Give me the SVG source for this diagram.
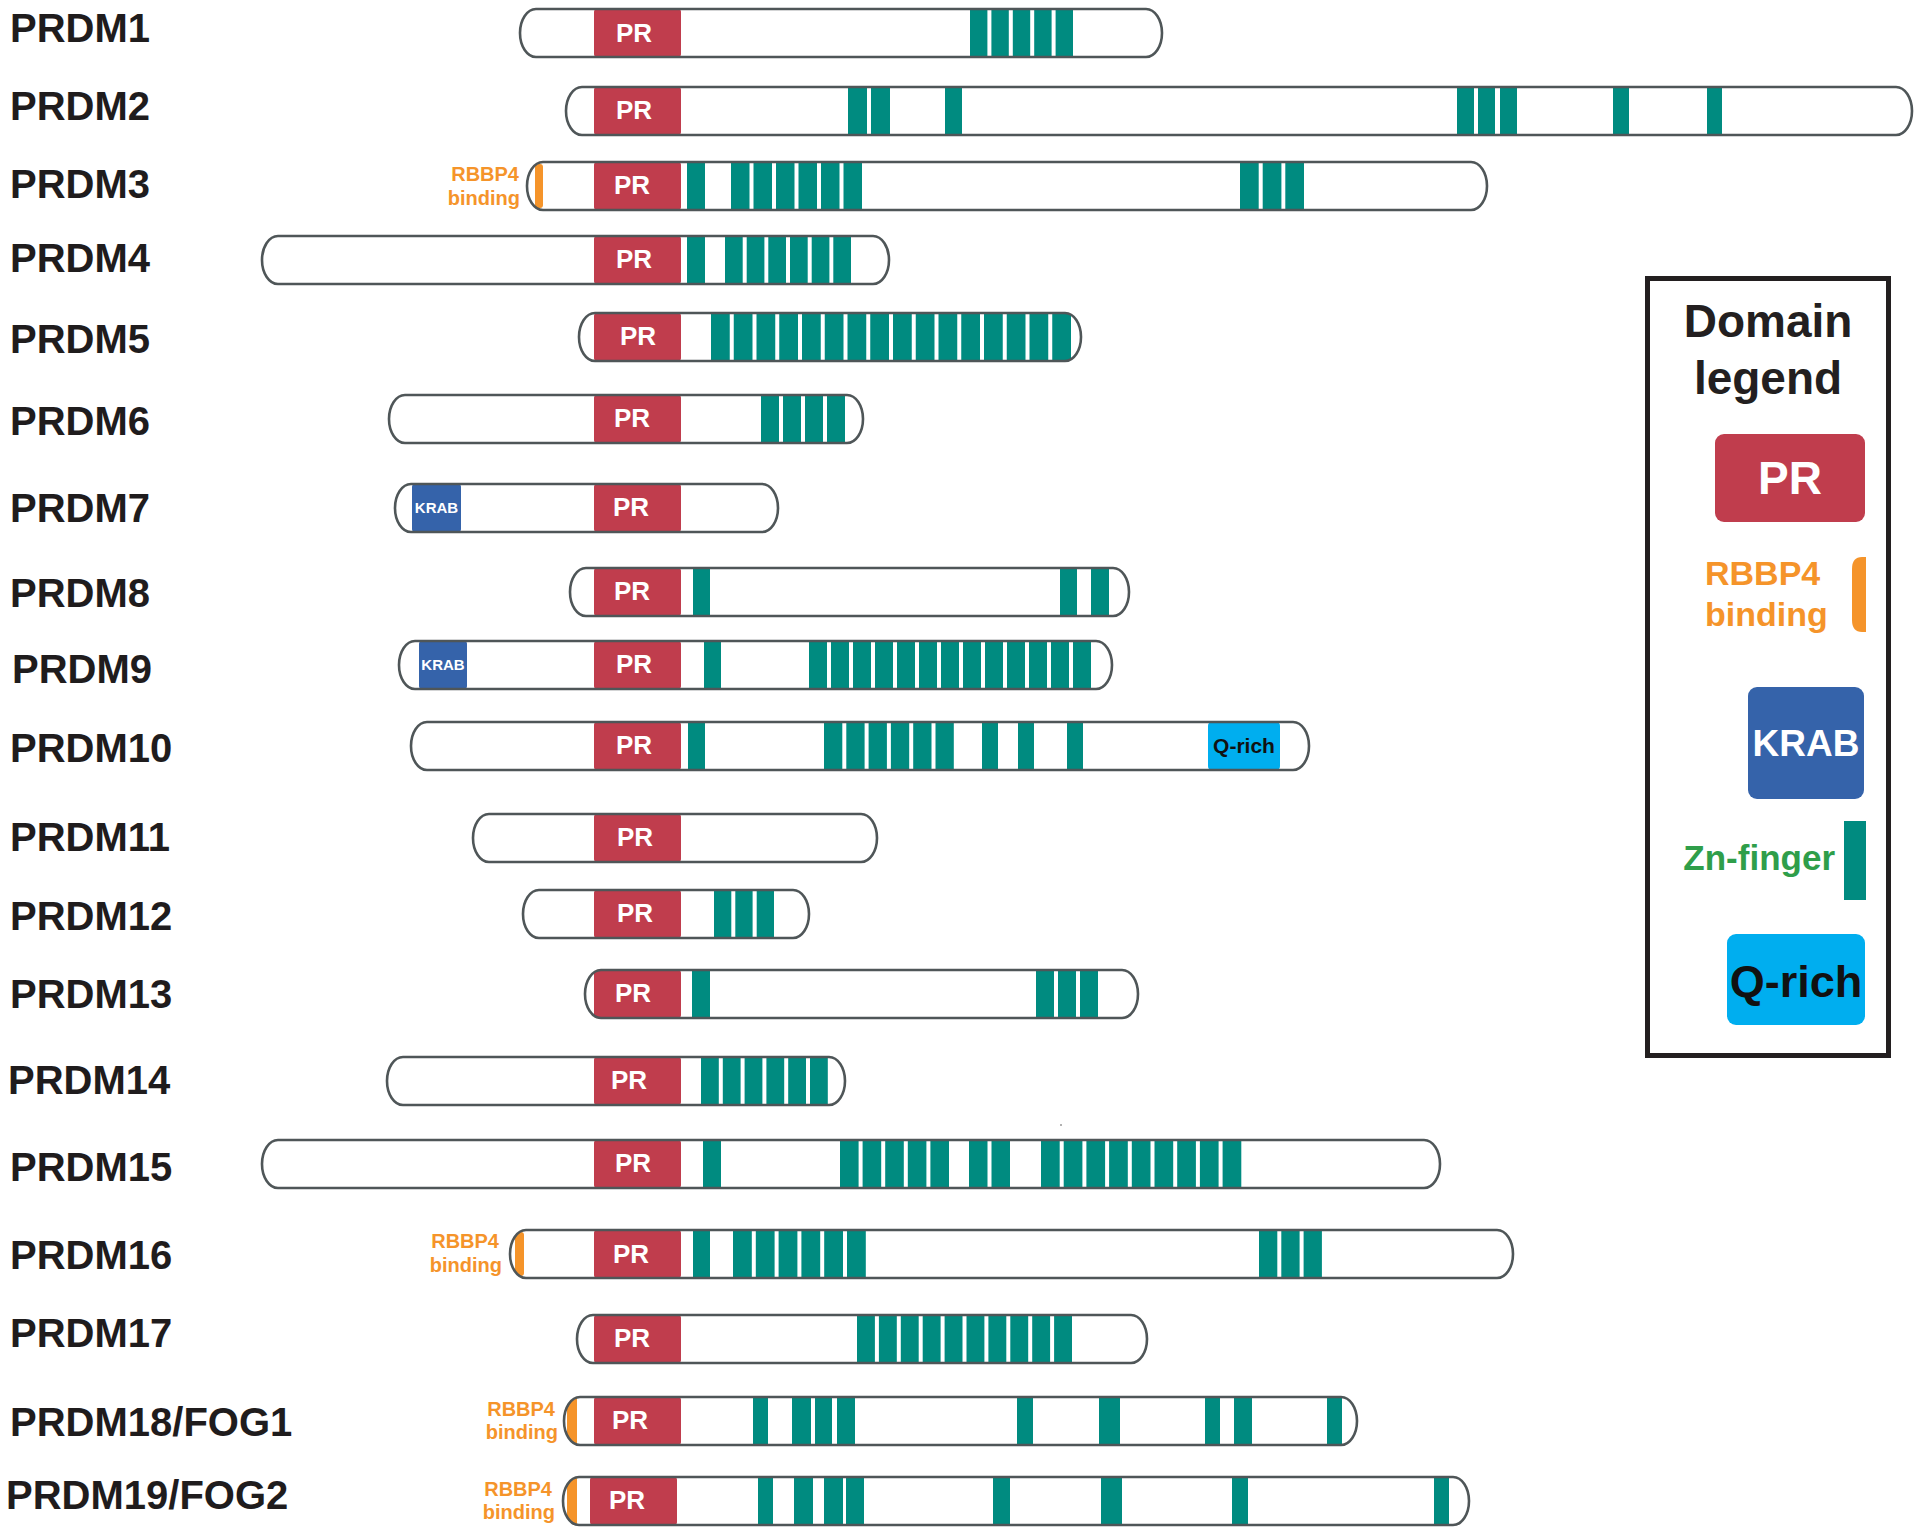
<svg xmlns="http://www.w3.org/2000/svg" width="1920" height="1535" viewBox="0 0 1920 1535">
<style>
.bg{fill:#fff}
.bar{fill:#fff}
.ol{fill:none;stroke:#4f5658;stroke-width:2.6}
.pr{fill:#c03d4d}
.zn{fill:#008b80}
.kr{fill:#3563aa}
.q{fill:#00aeef}
.rb{fill:#f5942a}
.lbl{font-family:"Liberation Sans",Arial,sans-serif;font-weight:bold;font-size:40px;fill:#1f1c1d}
.prt{font-family:"Liberation Sans",Arial,sans-serif;font-weight:bold;font-size:26px;fill:#fff;text-anchor:middle}
.krt{font-family:"Liberation Sans",Arial,sans-serif;font-weight:bold;font-size:15px;fill:#fff;text-anchor:middle}
.qt{font-family:"Liberation Sans",Arial,sans-serif;font-weight:bold;font-size:21px;fill:#111;text-anchor:middle}
.rbt{font-family:"Liberation Sans",Arial,sans-serif;font-weight:bold;font-size:20px;fill:#f5942a;text-anchor:end}
.lg{font-family:"Liberation Sans",Arial,sans-serif;font-weight:bold}
</style>
<defs>
<clipPath id="c1"><rect x="520" y="-24" width="642" height="48" rx="16" ry="24"/></clipPath>
<clipPath id="c2"><rect x="566" y="-24" width="1346" height="48" rx="16" ry="24"/></clipPath>
<clipPath id="c3"><rect x="527" y="-24" width="960" height="48" rx="16" ry="24"/></clipPath>
<clipPath id="c4"><rect x="262" y="-24" width="627" height="48" rx="16" ry="24"/></clipPath>
<clipPath id="c5"><rect x="579" y="-24" width="502" height="48" rx="16" ry="24"/></clipPath>
<clipPath id="c6"><rect x="389" y="-24" width="474" height="48" rx="16" ry="24"/></clipPath>
<clipPath id="c7"><rect x="395" y="-24" width="383" height="48" rx="16" ry="24"/></clipPath>
<clipPath id="c8"><rect x="570" y="-24" width="559" height="48" rx="16" ry="24"/></clipPath>
<clipPath id="c9"><rect x="399" y="-24" width="713" height="48" rx="16" ry="24"/></clipPath>
<clipPath id="c10"><rect x="411" y="-24" width="898" height="48" rx="16" ry="24"/></clipPath>
<clipPath id="c11"><rect x="473" y="-24" width="404" height="48" rx="16" ry="24"/></clipPath>
<clipPath id="c12"><rect x="523" y="-24" width="286" height="48" rx="16" ry="24"/></clipPath>
<clipPath id="c13"><rect x="585" y="-24" width="553" height="48" rx="16" ry="24"/></clipPath>
<clipPath id="c14"><rect x="387" y="-24" width="458" height="48" rx="16" ry="24"/></clipPath>
<clipPath id="c15"><rect x="262" y="-24" width="1178" height="48" rx="16" ry="24"/></clipPath>
<clipPath id="c16"><rect x="510" y="-24" width="1003" height="48" rx="16" ry="24"/></clipPath>
<clipPath id="c17"><rect x="577" y="-24" width="570" height="48" rx="16" ry="24"/></clipPath>
<clipPath id="c18"><rect x="564" y="-24" width="793" height="48" rx="16" ry="24"/></clipPath>
<clipPath id="c19"><rect x="563" y="-24" width="906" height="48" rx="16" ry="24"/></clipPath>
</defs>
<rect class="bg" x="0" y="0" width="1920" height="1535"/>

<g id="prdm1" transform="translate(0,33)">
<text class="lbl" x="10" y="9">PRDM1</text>
<rect class="bar" x="520" y="-24" width="642" height="48" rx="16" ry="24"/>
<g clip-path="url(#c1)">
<rect class="pr" x="594" y="-24" width="87" height="48" rx="3"/>
<rect class="zn" x="970" y="-24" width="17.4" height="48"/><rect class="zn" x="991.4" y="-24" width="17.4" height="48"/><rect class="zn" x="1012.8" y="-24" width="17.4" height="48"/><rect class="zn" x="1034.2" y="-24" width="17.4" height="48"/><rect class="zn" x="1055.6" y="-24" width="17.4" height="48"/>
</g>
<rect class="ol" x="520" y="-24" width="642" height="48" rx="16" ry="24"/>
<text class="prt" x="634" y="9">PR</text>
</g>

<g id="prdm2" transform="translate(0,111)">
<text class="lbl" x="10" y="9">PRDM2</text>
<rect class="bar" x="566" y="-24" width="1346" height="48" rx="16" ry="24"/>
<g clip-path="url(#c2)">
<rect class="pr" x="594" y="-24" width="87" height="48" rx="3"/>
<rect class="zn" x="848" y="-24" width="19" height="48"/><rect class="zn" x="871" y="-24" width="19" height="48"/><rect class="zn" x="945" y="-24" width="17" height="48"/>
<rect class="zn" x="1457" y="-24" width="17" height="48"/><rect class="zn" x="1478" y="-24" width="17" height="48"/><rect class="zn" x="1500" y="-24" width="17" height="48"/>
<rect class="zn" x="1613" y="-24" width="16" height="48"/><rect class="zn" x="1707" y="-24" width="15" height="48"/>
</g>
<rect class="ol" x="566" y="-24" width="1346" height="48" rx="16" ry="24"/>
<text class="prt" x="634" y="8">PR</text>
</g>

<g id="prdm3" transform="translate(0,186)">
<text class="lbl" x="10" y="12">PRDM3</text>
<text class="rbt" x="519" y="-5">RBBP4</text>
<text class="rbt" x="520" y="19">binding</text>
<rect class="bar" x="527" y="-24" width="960" height="48" rx="16" ry="24"/>
<g clip-path="url(#c3)">
<rect class="rb" x="535" y="-22" width="8" height="44" rx="3"/>
<rect class="pr" x="594" y="-24" width="87" height="48" rx="3"/>
<rect class="zn" x="687" y="-24" width="18" height="48"/>
<rect class="zn" x="731" y="-24" width="18.5" height="48"/><rect class="zn" x="753.5" y="-24" width="18.5" height="48"/><rect class="zn" x="776" y="-24" width="18.5" height="48"/><rect class="zn" x="798.5" y="-24" width="18.5" height="48"/><rect class="zn" x="821" y="-24" width="18.5" height="48"/><rect class="zn" x="843.5" y="-24" width="18.5" height="48"/>
<rect class="zn" x="1240" y="-24" width="18.7" height="48"/><rect class="zn" x="1262.7" y="-24" width="18.7" height="48"/><rect class="zn" x="1285.3" y="-24" width="18.7" height="48"/>
</g>
<rect class="ol" x="527" y="-24" width="960" height="48" rx="16" ry="24"/>
<text class="prt" x="632" y="8">PR</text>
</g>

<g id="prdm4" transform="translate(0,260)">
<text class="lbl" x="10" y="12">PRDM4</text>
<rect class="bar" x="262" y="-24" width="627" height="48" rx="16" ry="24"/>
<g clip-path="url(#c4)">
<rect class="pr" x="594" y="-24" width="87" height="48" rx="3"/>
<rect class="zn" x="687" y="-24" width="18" height="48"/>
<rect class="zn" x="725" y="-24" width="17.7" height="48"/><rect class="zn" x="746.7" y="-24" width="17.7" height="48"/><rect class="zn" x="768.3" y="-24" width="17.7" height="48"/><rect class="zn" x="790" y="-24" width="17.7" height="48"/><rect class="zn" x="811.7" y="-24" width="17.7" height="48"/><rect class="zn" x="833.3" y="-24" width="17.7" height="48"/>
</g>
<rect class="ol" x="262" y="-24" width="627" height="48" rx="16" ry="24"/>
<text class="prt" x="634" y="8">PR</text>
</g>

<g id="prdm5" transform="translate(0,337)">
<text class="lbl" x="10" y="16">PRDM5</text>
<rect class="bar" x="579" y="-24" width="502" height="48" rx="16" ry="24"/>
<g clip-path="url(#c5)">
<rect class="pr" x="594" y="-24" width="87" height="48" rx="3"/>
<rect class="zn" x="711" y="-24" width="18.75" height="48"/><rect class="zn" x="733.75" y="-24" width="18.75" height="48"/><rect class="zn" x="756.5" y="-24" width="18.75" height="48"/><rect class="zn" x="779.25" y="-24" width="18.75" height="48"/>
<rect class="zn" x="802" y="-24" width="18.75" height="48"/><rect class="zn" x="824.75" y="-24" width="18.75" height="48"/><rect class="zn" x="847.5" y="-24" width="18.75" height="48"/><rect class="zn" x="870.25" y="-24" width="18.75" height="48"/>
<rect class="zn" x="893" y="-24" width="18.75" height="48"/><rect class="zn" x="915.75" y="-24" width="18.75" height="48"/><rect class="zn" x="938.5" y="-24" width="18.75" height="48"/><rect class="zn" x="961.25" y="-24" width="18.75" height="48"/>
<rect class="zn" x="984" y="-24" width="18.75" height="48"/><rect class="zn" x="1006.75" y="-24" width="18.75" height="48"/><rect class="zn" x="1029.5" y="-24" width="18.75" height="48"/><rect class="zn" x="1052.25" y="-24" width="18.75" height="48"/>
</g>
<rect class="ol" x="579" y="-24" width="502" height="48" rx="16" ry="24"/>
<text class="prt" x="638" y="8">PR</text>
</g>

<g id="prdm6" transform="translate(0,419)">
<text class="lbl" x="10" y="16">PRDM6</text>
<rect class="bar" x="389" y="-24" width="474" height="48" rx="16" ry="24"/>
<g clip-path="url(#c6)">
<rect class="pr" x="594" y="-24" width="87" height="48" rx="3"/>
<rect class="zn" x="761" y="-24" width="18" height="48"/><rect class="zn" x="783" y="-24" width="18" height="48"/><rect class="zn" x="805" y="-24" width="18" height="48"/><rect class="zn" x="827" y="-24" width="18" height="48"/>
</g>
<rect class="ol" x="389" y="-24" width="474" height="48" rx="16" ry="24"/>
<text class="prt" x="632" y="8">PR</text>
</g>

<g id="prdm7" transform="translate(0,508)">
<text class="lbl" x="10" y="14">PRDM7</text>
<rect class="bar" x="395" y="-24" width="383" height="48" rx="16" ry="24"/>
<g clip-path="url(#c7)">
<rect class="kr" x="412" y="-24" width="49" height="48" rx="3"/>
<rect class="pr" x="594" y="-24" width="87" height="48" rx="3"/>
</g>
<rect class="ol" x="395" y="-24" width="383" height="48" rx="16" ry="24"/>
<text class="krt" x="436.5" y="5">KRAB</text>
<text class="prt" x="631" y="8">PR</text>
</g>

<g id="prdm8" transform="translate(0,592)">
<text class="lbl" x="10" y="15">PRDM8</text>
<rect class="bar" x="570" y="-24" width="559" height="48" rx="16" ry="24"/>
<g clip-path="url(#c8)">
<rect class="pr" x="594" y="-24" width="87" height="48" rx="3"/>
<rect class="zn" x="693" y="-24" width="17" height="48"/><rect class="zn" x="1060" y="-24" width="17" height="48"/><rect class="zn" x="1091" y="-24" width="18" height="48"/>
</g>
<rect class="ol" x="570" y="-24" width="559" height="48" rx="16" ry="24"/>
<text class="prt" x="632" y="8">PR</text>
</g>

<g id="prdm9" transform="translate(0,665)">
<text class="lbl" x="12" y="18">PRDM9</text>
<rect class="bar" x="399" y="-24" width="713" height="48" rx="16" ry="24"/>
<g clip-path="url(#c9)">
<rect class="kr" x="419" y="-24" width="48" height="48" rx="3"/>
<rect class="pr" x="594" y="-24" width="87" height="48" rx="3"/>
<rect class="zn" x="704" y="-24" width="17" height="48"/>
<rect class="zn" x="809" y="-24" width="18" height="48"/><rect class="zn" x="831" y="-24" width="18" height="48"/><rect class="zn" x="853" y="-24" width="18" height="48"/><rect class="zn" x="875" y="-24" width="18" height="48"/><rect class="zn" x="897" y="-24" width="18" height="48"/><rect class="zn" x="919" y="-24" width="18" height="48"/><rect class="zn" x="941" y="-24" width="18" height="48"/><rect class="zn" x="963" y="-24" width="18" height="48"/><rect class="zn" x="985" y="-24" width="18" height="48"/><rect class="zn" x="1007" y="-24" width="18" height="48"/><rect class="zn" x="1029" y="-24" width="18" height="48"/><rect class="zn" x="1051" y="-24" width="18" height="48"/><rect class="zn" x="1073" y="-24" width="18" height="48"/>
</g>
<rect class="ol" x="399" y="-24" width="713" height="48" rx="16" ry="24"/>
<text class="krt" x="443" y="5">KRAB</text>
<text class="prt" x="634" y="8">PR</text>
</g>

<g id="prdm10" transform="translate(0,746)">
<text class="lbl" x="10" y="16">PRDM10</text>
<rect class="bar" x="411" y="-24" width="898" height="48" rx="16" ry="24"/>
<g clip-path="url(#c10)">
<rect class="pr" x="594" y="-24" width="87" height="48" rx="3"/>
<rect class="zn" x="688" y="-24" width="17" height="48"/>
<rect class="zn" x="824" y="-24" width="18.3" height="48"/><rect class="zn" x="846.3" y="-24" width="18.3" height="48"/><rect class="zn" x="868.6" y="-24" width="18.3" height="48"/><rect class="zn" x="890.9" y="-24" width="18.3" height="48"/><rect class="zn" x="913.2" y="-24" width="18.3" height="48"/><rect class="zn" x="935.5" y="-24" width="18.3" height="48"/>
<rect class="zn" x="982" y="-24" width="16" height="48"/><rect class="zn" x="1018" y="-24" width="16" height="48"/><rect class="zn" x="1067" y="-24" width="16" height="48"/>
<rect class="q" x="1208" y="-24" width="72" height="48" rx="4"/>
</g>
<rect class="ol" x="411" y="-24" width="898" height="48" rx="16" ry="24"/>
<text class="qt" x="1244" y="7">Q-rich</text>
<text class="prt" x="634" y="8">PR</text>
</g>

<g id="prdm11" transform="translate(0,838)">
<text class="lbl" x="10" y="13">PRDM11</text>
<rect class="bar" x="473" y="-24" width="404" height="48" rx="16" ry="24"/>
<g clip-path="url(#c11)">
<rect class="pr" x="594" y="-24" width="87" height="48" rx="3"/>
</g>
<rect class="ol" x="473" y="-24" width="404" height="48" rx="16" ry="24"/>
<text class="prt" x="635" y="8">PR</text>
</g>

<g id="prdm12" transform="translate(0,914)">
<text class="lbl" x="10" y="16">PRDM12</text>
<rect class="bar" x="523" y="-24" width="286" height="48" rx="16" ry="24"/>
<g clip-path="url(#c12)">
<rect class="pr" x="594" y="-24" width="87" height="48" rx="3"/>
<rect class="zn" x="714" y="-24" width="17.3" height="48"/><rect class="zn" x="735.3" y="-24" width="17.3" height="48"/><rect class="zn" x="756.7" y="-24" width="17.3" height="48"/>
</g>
<rect class="ol" x="523" y="-24" width="286" height="48" rx="16" ry="24"/>
<text class="prt" x="635" y="8">PR</text>
</g>

<g id="prdm13" transform="translate(0,994)">
<text class="lbl" x="10" y="14">PRDM13</text>
<rect class="bar" x="585" y="-24" width="553" height="48" rx="16" ry="24"/>
<g clip-path="url(#c13)">
<rect class="pr" x="594" y="-24" width="87" height="48" rx="3"/>
<rect class="zn" x="692" y="-24" width="18" height="48"/>
<rect class="zn" x="1036" y="-24" width="18" height="48"/><rect class="zn" x="1058" y="-24" width="18" height="48"/><rect class="zn" x="1080" y="-24" width="18" height="48"/>
</g>
<rect class="ol" x="585" y="-24" width="553" height="48" rx="16" ry="24"/>
<text class="prt" x="633" y="8">PR</text>
</g>

<g id="prdm14" transform="translate(0,1081)">
<text class="lbl" x="8" y="13">PRDM14</text>
<rect class="bar" x="387" y="-24" width="458" height="48" rx="16" ry="24"/>
<g clip-path="url(#c14)">
<rect class="pr" x="594" y="-24" width="87" height="48" rx="3"/>
<rect class="zn" x="701" y="-24" width="17.8" height="48"/><rect class="zn" x="722.8" y="-24" width="17.8" height="48"/><rect class="zn" x="744.6" y="-24" width="17.8" height="48"/><rect class="zn" x="766.4" y="-24" width="17.8" height="48"/><rect class="zn" x="788.2" y="-24" width="17.8" height="48"/><rect class="zn" x="810" y="-24" width="17.8" height="48"/>
</g>
<rect class="ol" x="387" y="-24" width="458" height="48" rx="16" ry="24"/>
<text class="prt" x="629" y="8">PR</text>
</g>

<g id="prdm15" transform="translate(0,1164)">
<text class="lbl" x="10" y="17">PRDM15</text>
<rect class="bar" x="262" y="-24" width="1178" height="48" rx="16" ry="24"/>
<g clip-path="url(#c15)">
<rect class="pr" x="594" y="-24" width="87" height="48" rx="3"/>
<rect class="zn" x="703" y="-24" width="18" height="48"/>
<rect class="zn" x="840" y="-24" width="18.6" height="48"/><rect class="zn" x="862.6" y="-24" width="18.6" height="48"/><rect class="zn" x="885.2" y="-24" width="18.6" height="48"/><rect class="zn" x="907.8" y="-24" width="18.6" height="48"/><rect class="zn" x="930.4" y="-24" width="18.6" height="48"/>
<rect class="zn" x="969" y="-24" width="18.5" height="48"/><rect class="zn" x="991.5" y="-24" width="18.5" height="48"/>
<rect class="zn" x="1041" y="-24" width="18.7" height="48"/><rect class="zn" x="1063.7" y="-24" width="18.7" height="48"/><rect class="zn" x="1086.4" y="-24" width="18.7" height="48"/><rect class="zn" x="1109.1" y="-24" width="18.7" height="48"/><rect class="zn" x="1131.8" y="-24" width="18.7" height="48"/><rect class="zn" x="1154.5" y="-24" width="18.7" height="48"/><rect class="zn" x="1177.2" y="-24" width="18.7" height="48"/><rect class="zn" x="1199.9" y="-24" width="18.7" height="48"/><rect class="zn" x="1222.6" y="-24" width="18.7" height="48"/>
</g>
<rect class="ol" x="262" y="-24" width="1178" height="48" rx="16" ry="24"/>
<text class="prt" x="633" y="8">PR</text>
</g>

<g id="prdm16" transform="translate(0,1254)">
<text class="lbl" x="10" y="15">PRDM16</text>
<text class="rbt" x="499" y="-6">RBBP4</text>
<text class="rbt" x="502" y="18">binding</text>
<rect class="bar" x="510" y="-24" width="1003" height="48" rx="16" ry="24"/>
<g clip-path="url(#c16)">
<rect class="rb" x="515" y="-22" width="9" height="44" rx="3"/>
<rect class="pr" x="594" y="-24" width="87" height="48" rx="3"/>
<rect class="zn" x="693" y="-24" width="17" height="48"/>
<rect class="zn" x="733" y="-24" width="18.8" height="48"/><rect class="zn" x="755.8" y="-24" width="18.8" height="48"/><rect class="zn" x="778.6" y="-24" width="18.8" height="48"/><rect class="zn" x="801.4" y="-24" width="18.8" height="48"/><rect class="zn" x="824.2" y="-24" width="18.8" height="48"/><rect class="zn" x="847" y="-24" width="18.8" height="48"/>
<rect class="zn" x="1259" y="-24" width="18.3" height="48"/><rect class="zn" x="1281.3" y="-24" width="18.3" height="48"/><rect class="zn" x="1303.6" y="-24" width="18.3" height="48"/>
</g>
<rect class="ol" x="510" y="-24" width="1003" height="48" rx="16" ry="24"/>
<text class="prt" x="631" y="9">PR</text>
</g>

<g id="prdm17" transform="translate(0,1339)">
<text class="lbl" x="10" y="8">PRDM17</text>
<rect class="bar" x="577" y="-24" width="570" height="48" rx="16" ry="24"/>
<g clip-path="url(#c17)">
<rect class="pr" x="594" y="-24" width="87" height="48" rx="3"/>
<rect class="zn" x="857" y="-24" width="17.9" height="48"/><rect class="zn" x="878.9" y="-24" width="17.9" height="48"/><rect class="zn" x="900.8" y="-24" width="17.9" height="48"/><rect class="zn" x="922.7" y="-24" width="17.9" height="48"/><rect class="zn" x="944.6" y="-24" width="17.9" height="48"/><rect class="zn" x="966.5" y="-24" width="17.9" height="48"/><rect class="zn" x="988.4" y="-24" width="17.9" height="48"/><rect class="zn" x="1010.3" y="-24" width="17.9" height="48"/><rect class="zn" x="1032.2" y="-24" width="17.9" height="48"/><rect class="zn" x="1054.1" y="-24" width="17.9" height="48"/>
</g>
<rect class="ol" x="577" y="-24" width="570" height="48" rx="16" ry="24"/>
<text class="prt" x="632" y="8">PR</text>
</g>

<g id="prdm18" transform="translate(0,1421)">
<text class="lbl" x="10" y="15">PRDM18/FOG1</text>
<text class="rbt" x="555" y="-5">RBBP4</text>
<text class="rbt" x="558" y="18">binding</text>
<rect class="bar" x="564" y="-24" width="793" height="48" rx="16" ry="24"/>
<g clip-path="url(#c18)">
<rect class="rb" x="567" y="-24" width="10" height="48"/>
<rect class="pr" x="594" y="-24" width="87" height="48" rx="3"/>
<rect class="zn" x="753" y="-24" width="15" height="48"/>
<rect class="zn" x="792" y="-24" width="19" height="48"/><rect class="zn" x="815" y="-24" width="17" height="48"/><rect class="zn" x="837" y="-24" width="18" height="48"/>
<rect class="zn" x="1017" y="-24" width="16" height="48"/><rect class="zn" x="1099" y="-24" width="21" height="48"/><rect class="zn" x="1205" y="-24" width="15" height="48"/><rect class="zn" x="1234" y="-24" width="18" height="48"/><rect class="zn" x="1327" y="-24" width="15" height="48"/>
</g>
<rect class="ol" x="564" y="-24" width="793" height="48" rx="16" ry="24"/>
<text class="prt" x="630" y="8">PR</text>
</g>

<g id="prdm19" transform="translate(0,1501)">
<text class="lbl" x="6" y="8">PRDM19/FOG2</text>
<text class="rbt" x="552" y="-5">RBBP4</text>
<text class="rbt" x="555" y="18">binding</text>
<rect class="bar" x="563" y="-24" width="906" height="48" rx="16" ry="24"/>
<g clip-path="url(#c19)">
<rect class="rb" x="567" y="-24" width="10" height="48"/>
<rect class="pr" x="590" y="-24" width="87" height="48" rx="3"/>
<rect class="zn" x="758" y="-24" width="15" height="48"/>
<rect class="zn" x="794" y="-24" width="19" height="48"/><rect class="zn" x="824" y="-24" width="19" height="48"/><rect class="zn" x="846" y="-24" width="18" height="48"/>
<rect class="zn" x="993" y="-24" width="17" height="48"/><rect class="zn" x="1101" y="-24" width="21" height="48"/><rect class="zn" x="1232" y="-24" width="16" height="48"/><rect class="zn" x="1434" y="-24" width="15" height="48"/>
</g>
<rect class="ol" x="563" y="-24" width="906" height="48" rx="16" ry="24"/>
<text class="prt" x="627" y="8">PR</text>
</g>

<circle cx="1061" cy="1125" r="1" fill="#999"/>

<g id="legend">
<rect x="1647.5" y="278.5" width="241" height="777" fill="#fff" stroke="#231f20" stroke-width="5"/>
<text class="lg" x="1768" y="337" font-size="46" fill="#231f20" text-anchor="middle">Domain</text>
<text class="lg" x="1768" y="394" font-size="46" fill="#231f20" text-anchor="middle">legend</text>
<rect class="pr" x="1715" y="434" width="150" height="88" rx="9"/>
<text class="lg" x="1790" y="494" font-size="46" fill="#fff" text-anchor="middle">PR</text>
<text class="lg" x="1705" y="585" font-size="34" fill="#f5942a">RBBP4</text>
<text class="lg" x="1705" y="626" font-size="34" fill="#f5942a">binding</text>
<path class="rb" d="M1866,557 V632 H1862 Q1852,632 1852,620 V569 Q1852,557 1862,557 Z"/>
<rect class="kr" x="1748" y="687" width="116" height="112" rx="9"/>
<text class="lg" x="1806" y="756" font-size="37" fill="#fff" text-anchor="middle">KRAB</text>
<text class="lg" x="1835" y="870" font-size="35" fill="#2f9e4a" text-anchor="end">Zn-finger</text>
<rect class="zn" x="1844" y="821" width="22" height="79"/>
<rect class="q" x="1727" y="934" width="138" height="91" rx="9"/>
<text class="lg" x="1796" y="997" font-size="45" fill="#111" text-anchor="middle">Q-rich</text>
</g>
</svg>
